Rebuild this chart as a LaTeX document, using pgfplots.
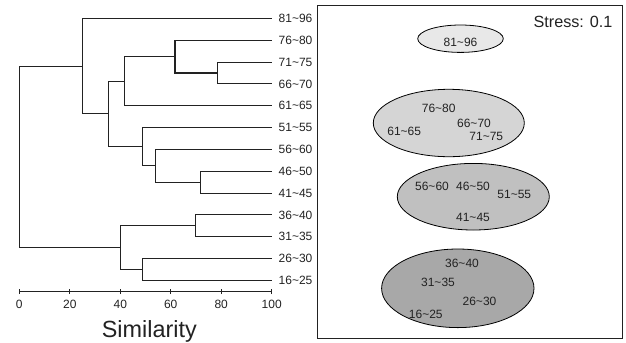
\documentclass[border=0pt]{standalone}
\usepackage{fontspec}
\setmainfont{Liberation Sans}
\usepackage{pgfplots}
\pgfplotsset{compat=1.18}
\definecolor{dline}{HTML}{222222}
\definecolor{ellA}{HTML}{E8E8E8}
\definecolor{ellB}{HTML}{D5D5D5}
\definecolor{ellC}{HTML}{C0C0C0}
\definecolor{ellD}{HTML}{A8A8A8}
\newcommand{\tl}{\textasciitilde}
\tikzset{dend/.style={line width=1.1bp, draw=dline, mark=none, solid}}
\begin{document}
\begin{tikzpicture}
\path[use as bounding box] (0,0) rectangle (626bp,-343bp);
% ---------------- Dendrogram ----------------
\begin{axis}[
  at={(19.3bp,-291.5bp)}, anchor=south west,
  scale only axis, width=252.4bp, height=281.8bp,
  xmin=0, xmax=100, ymin=-0.51, ymax=12.4,
  axis x line=bottom, axis y line=right,
  x axis line style={-, line width=1.1bp, draw=dline},
  y axis line style={draw=none},
  xtick={0,20,...,100},
  ytick={0,...,12},
  yticklabels={16\tl25,26\tl30,31\tl35,36\tl40,41\tl45,46\tl50,56\tl60,51\tl55,61\tl65,66\tl70,71\tl75,76\tl80,81\tl96},
  tick align=center,
  x tick style={line width=1.1bp, draw=dline},
  y tick style={draw=none},
  major tick length=5bp,
  /pgf/number format/assume math mode=true,
  xticklabel style={font=\fontsize{12bp}{14bp}\selectfont, yshift=-2.7bp, text=dline},
  yticklabel style={font=\fontsize{12bp}{14bp}\selectfont, xshift=1bp, text=dline},
  xlabel={Similarity},
  xlabel style={at={(axis description cs:0.515,0)}, anchor=north, inner sep=0pt, yshift=-28.5bp, font=\fontsize{23.4bp}{26bp}\selectfont, text=dline},
  clip=false,
  cycle list={{dend}},
]
\addplot[dend] coordinates {(100,10) (78.5,10) (78.5,9) (100,9)};
\addplot[dend] coordinates {(100,11) (61.7,11) (61.7,9.5) (78.5,9.5)};
\addplot[dend] coordinates {(61.7,10.25) (41.6,10.25) (41.6,8) (100,8)};
\addplot[dend] coordinates {(100,5) (71.8,5) (71.8,4) (100,4)};
\addplot[dend] coordinates {(100,6) (54.1,6) (54.1,4.5) (71.8,4.5)};
\addplot[dend] coordinates {(100,7) (48.8,7) (48.8,5.25) (54.1,5.25)};
\addplot[dend] coordinates {(41.6,9.125) (35.3,9.125) (35.3,6.125) (48.8,6.125)};
\addplot[dend] coordinates {(100,12) (25,12) (25,7.625) (35.3,7.625)};
\addplot[dend] coordinates {(100,3) (69.9,3) (69.9,2) (100,2)};
\addplot[dend] coordinates {(100,1) (48.8,1) (48.8,0) (100,0)};
\addplot[dend] coordinates {(69.9,2.5) (40.2,2.5) (40.2,0.5) (48.8,0.5)};
\addplot[dend] coordinates {(25,9.8125) (0,9.8125) (0,1.5) (40.2,1.5)};
\end{axis}
% ---------------- NMDS panel ----------------
\begin{axis}[
  at={(317.3bp,-5.7bp)}, anchor=north west,
  scale only axis, width=305bp, height=332.6bp,
  xmin=317.3, xmax=622.3, ymin=5.7, ymax=338.3, y dir=reverse,
  xtick=\empty, ytick=\empty,
  axis line style={line width=1.2bp, draw=dline},
  clip=false,
]
\draw[fill=ellA, draw=black, line width=0.8bp] (axis cs:460.5,38.7) ellipse [x radius=42.8bp, y radius=13.7bp];
\draw[fill=ellB, draw=black, line width=0.8bp] (axis cs:448.8,123) ellipse [x radius=75.5bp, y radius=33.7bp];
\draw[fill=ellC, draw=black, line width=0.8bp] (axis cs:473.3,196.7) ellipse [x radius=76bp, y radius=33.3bp];
\draw[fill=ellD, draw=black, line width=0.8bp] (axis cs:457.8,288.3) ellipse [x radius=76.2bp, y radius=39.3bp];
\addplot[draw=none, mark=none, nodes near coords, point meta=explicit symbolic,
  every node near coord/.append style={anchor=center, inner sep=0pt, font=\fontsize{12bp}{14bp}\selectfont, text=dline}]
  coordinates {
  (460.5,42.3) [81\tl96]
  (438.7,108.3) [76\tl80]
  (404.2,131) [61\tl65]
  (474,123.3) [66\tl70]
  (486.3,136) [71\tl75]
  (432,186) [56\tl60]
  (473,186) [46\tl50]
  (514.3,194.3) [51\tl55]
  (473,217.3) [41\tl45]
  (462,263.3) [36\tl40]
  (438,282.7) [31\tl35]
  (479.5,301.7) [26\tl30]
  (425.8,314) [16\tl25]
  };
\node[anchor=east, inner sep=0pt, font=\fontsize{16.2bp}{18bp}\selectfont, text=dline] at (axis cs:612.7,22.3) {Stress: 0.1};
\end{axis}
\end{tikzpicture}
\end{document}
